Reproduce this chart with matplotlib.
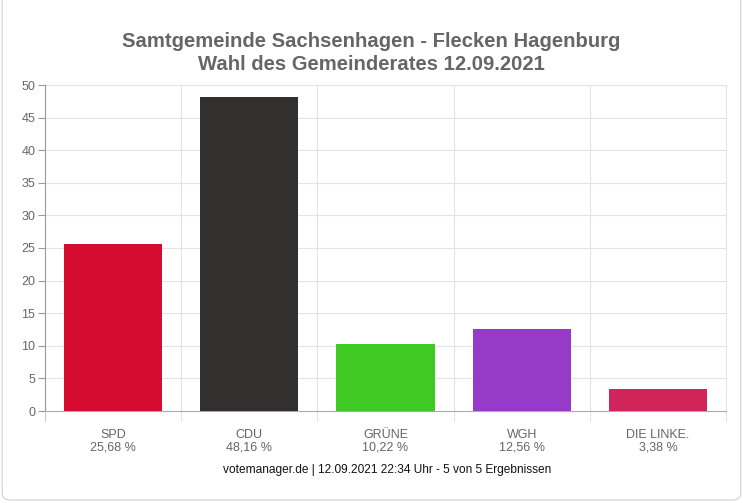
import matplotlib.pyplot as plt
from matplotlib.patches import FancyBboxPatch

parties = ["SPD", "CDU", "GRÜNE", "WGH", "DIE LINKE."]
votes = [25.68, 48.16, 10.22, 12.56, 3.38]
colors = ["#d50c2f", "#32302f", "#3fc923", "#963bc9", "#d0245a"]
title = "Samtgemeinde Sachsenhagen - Flecken Hagenburg\nWahl des Gemeinderates 12.09.2021"
footer = "votemanager.de | 12.09.2021 22:34 Uhr - 5 von 5 Ergebnissen"

plt.rcParams['font.family'] = ['Liberation Sans', 'DejaVu Sans']

fig = plt.figure(figsize=(7.43, 5.03), dpi=100)
# card border
fig.patches.append(FancyBboxPatch((0.003, 0.006), 0.994, 1.2, boxstyle="round,pad=0,rounding_size=0.012",
                                  transform=fig.transFigure, fc="white", ec="#d8d8d8", lw=1, zorder=-10))

ax = fig.add_axes([45/743, 1-411/503, 681/743, 326/503])
ax.set_facecolor("none")
ax.set_zorder(5)

x = range(len(parties))
ax.bar(x, votes, width=0.72, color=colors, zorder=3)

ax.set_xlim(-0.5, len(parties) - 0.5)
ax.set_ylim(0, 50)
ax.set_yticks(range(0, 51, 5))
ax.tick_params(axis='y', color="#999999", labelsize=9, length=5, width=0.8, pad=2, labelcolor="#666666")

labels = [p + "\n" + f"{v:.2f} %".replace(".", ",") for p, v in zip(parties, votes)]
ax.set_xticks(list(x))
ax.set_xticklabels(labels, color="#666666", fontsize=9, linespacing=1.05)
ax.tick_params(axis='x', length=0, pad=13)

# gridlines
for y in range(5, 51, 5):
    ax.axhline(y, color="#e3e3e3", lw=0.8, zorder=1)
for b in [0.5, 1.5, 2.5, 3.5, 4.5]:
    ax.plot([b, b], [-0.03, 1], transform=ax.get_xaxis_transform(), color="#e3e3e3", lw=0.8, zorder=1, clip_on=False)
ax.plot([-0.5, -0.5], [-0.03, 0], transform=ax.get_xaxis_transform(), color="#cccccc", lw=0.8, clip_on=False)

for s in ["top", "right"]:
    ax.spines[s].set_visible(False)
ax.spines["left"].set_color("#999999")
ax.spines["bottom"].set_color("#aaaaaa")
ax.spines["left"].set_linewidth(0.8)
ax.spines["bottom"].set_linewidth(0.8)

fig.text(0.5, 1-53/503, title, ha="center", va="center", fontsize=14.6, fontweight="bold",
         color="#666666", linespacing=1.3)
fig.text(387/743, 1-470/503, footer, ha="center", va="center", fontsize=8.6, color="#111111")

fig.savefig("out.png", dpi=100)
